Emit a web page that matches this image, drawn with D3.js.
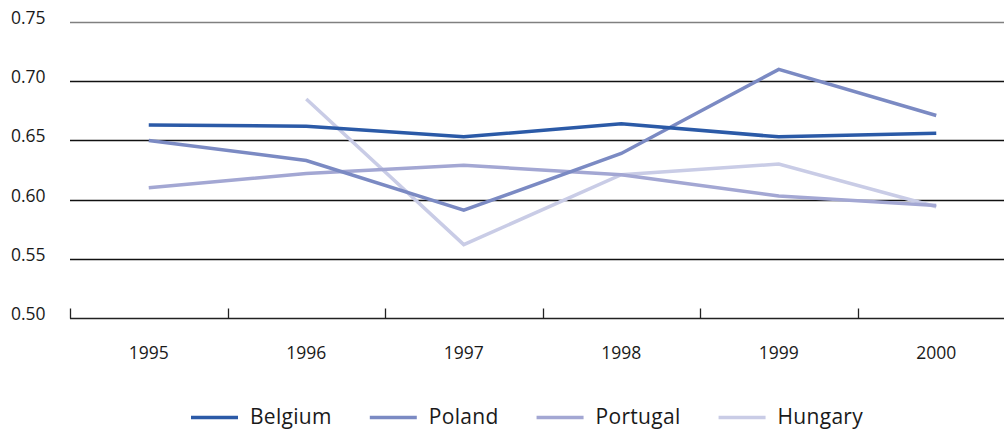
<!DOCTYPE html>
<html>
<head>
<meta charset="utf-8">
<script src="https://cdn.jsdelivr.net/npm/d3@7"></script>
<style>
    body { margin: 0; background: #fff; }
    text { font-family: "Open Sans", sans-serif; fill: #1a1a1a; }
</style>
</head>
<body>
<div id="chart"></div>
<script>
// values
var years = ["1995", "1996", "1997", "1998", "1999", "2000"];
var countries = ["Belgium", "Poland", "Portugal", "Hungary"];
var belgium = [0.663, 0.662, 0.653, 0.664, 0.653, 0.656];
var poland = [0.650, 0.633, 0.591, 0.639, 0.710, 0.671];
var portugal = [0.610, 0.622, 0.629, 0.621, 0.603, 0.595];
var hungary = [null, 0.685, 0.562, 0.621, 0.630, 0.594];
var yTicks = [0.50, 0.55, 0.60, 0.65, 0.70, 0.75];

var seriesValues = [belgium, poland, portugal, hungary];
var colours = ["#2b5aa7", "#7b8ac3", "#a3a7d3", "#c9cce6"];

var width = 1004;
var height = 430;

var svg = d3.select("#chart")
    .append("svg")
    .attr("width", width)
    .attr("height", height);

var x = d3.scaleBand()
    .domain(years)
    .range([70, 1015]);

var y = d3.scaleLinear()
    .domain([0.50, 0.75])
    .range([318, 22]);

var fmt = d3.format(".2f");

// horizontal grid lines + y labels
var grid = svg.append("g").attr("class", "grid");

grid.selectAll("line")
    .data(yTicks.slice(1))
    .enter()
    .append("line")
    .attr("x1", 70)
    .attr("x2", width)
    .attr("y1", function(d) { return Math.round(y(d)) + 0.5; })
    .attr("y2", function(d) { return Math.round(y(d)) + 0.5; })
    .style("stroke", function(d) { return d === 0.75 ? "#808080" : "#111"; })
    .style("stroke-width", 1.3);

grid.selectAll("text")
    .data(yTicks)
    .enter()
    .append("text")
    .attr("x", 11)
    .attr("y", function(d) { return y(d) + 2; })
    .style("font-size", "17.5px")
    .text(function(d) { return fmt(d); });

// bottom axis with ticks pointing up at band edges
var axisG = svg.append("g")
    .attr("transform", "translate(0," + (Math.round(y(0.5)) + 0.5) + ")");

axisG.append("line")
    .attr("x1", 70)
    .attr("x2", width)
    .style("stroke", "#222")
    .style("stroke-width", 1.3);

axisG.selectAll("line.tick")
    .data(years)
    .enter()
    .append("line")
    .attr("class", "tick")
    .attr("x1", function(d) { return Math.round(x(d)) + 0.5; })
    .attr("x2", function(d) { return Math.round(x(d)) + 0.5; })
    .attr("y1", -10)
    .attr("y2", 0)
    .style("stroke", "#222")
    .style("stroke-width", 1.3);

axisG.selectAll("text.year")
    .data(years)
    .enter()
    .append("text")
    .attr("class", "year")
    .attr("x", function(d) { return x(d) + x.bandwidth() / 2; })
    .attr("y", 40)
    .attr("text-anchor", "middle")
    .style("font-size", "17.5px")
    .text(function(d) { return d; });

// lines
var line = d3.line()
    .defined(function(d) { return d.value !== null; })
    .x(function(d) { return x(d.year) + x.bandwidth() / 2; })
    .y(function(d) { return y(d.value); });

var series = countries.map(function(c, i) {
    return {
        key: c,
        colour: colours[i],
        values: years.map(function(yr, j) {
            return { year: yr, value: seriesValues[i][j] };
        })
    };
});

svg.append("g")
    .attr("class", "lines")
    .selectAll("path")
    .data(series.slice().reverse())
    .enter()
    .append("path")
    .attr("d", function(d) { return line(d.values); })
    .style("fill", "none")
    .style("stroke", function(d) { return d.colour; })
    .style("stroke-width", 3.5)
    .style("stroke-linejoin", "miter");

// legend
var legend = svg.append("g").attr("class", "legend");
var lx = 191;
series.forEach(function(s) {
    legend.append("line")
        .attr("x1", lx)
        .attr("x2", lx + 47)
        .attr("y1", 417.5)
        .attr("y2", 417.5)
        .style("stroke", s.colour)
        .style("stroke-width", 3.5);
    var t = legend.append("text")
        .attr("x", lx + 59)
        .attr("y", 424)
        .style("font-size", "21px")
        .style("letter-spacing", "0.3px")
        .text(s.key);
    lx = lx + 59 + t.node().getComputedTextLength() + 38;
});
</script>
</body>
</html>
